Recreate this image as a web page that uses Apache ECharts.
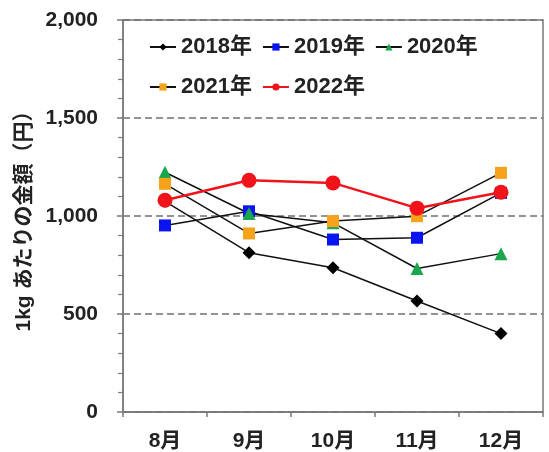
<!DOCTYPE html>
<html>
<head>
<meta charset="utf-8">
<script src="https://cdn.jsdelivr.net/npm/echarts@6/dist/echarts.min.js"></script>
<style>
  html, body { margin: 0; padding: 0; background: #fff; }
  #chart { width: 549px; height: 452px; }
</style>
</head>
<body>
<div id="chart"></div>
<script>
// カテゴリと各年の値
const months = ['8月', '9月', '10月', '11月', '12月'];
const y2018 = [1075, 813, 736, 566, 400];
const y2019 = [952, 1024, 880, 889, 1118];
const y2020 = [1223, 1013, 965, 732, 808];
const y2021 = [1164, 911, 974, 999, 1220];
const y2022 = [1080, 1182, 1169, 1040, 1121];
const yTicks = [0, 500, 1000, 1500, 2000];

const FONT = '"Liberation Sans", Arial, "Noto Sans CJK JP", sans-serif';
const GRAY = '#7a7a7a';

function makeSeries(name, data, symbol, size, color, lineColor, lineWidth) {
  return {
    name: name,
    type: 'line',
    data: data,
    symbol: symbol,
    symbolSize: size,
    showAllSymbol: true,
    itemStyle: { color: color },
    lineStyle: { color: lineColor, width: lineWidth },
    emphasis: { disabled: true },
    animation: false
  };
}

const legendText = { fontFamily: FONT, fontWeight: 'bold', fontSize: 22, color: '#222' };

const option = {
  backgroundColor: '#fff',
  grid: {
    left: 123, right: 6, top: 20, bottom: 39,
    show: true, borderColor: GRAY, borderWidth: 1.5
  },
  legend: [
    {
      data: ['2018年', '2019年', '2020年'],
      left: 144, top: 31,
      itemWidth: 26, itemHeight: 9, itemGap: 10,
      textStyle: legendText
    },
    {
      data: ['2021年', '2022年'],
      left: 144, top: 71,
      itemWidth: 26, itemHeight: 9, itemGap: 10,
      textStyle: legendText
    }
  ],
  xAxis: {
    type: 'category',
    data: months,
    boundaryGap: true,
    axisLine: { lineStyle: { color: GRAY, width: 1.5 } },
    axisTick: { show: true, length: 5, lineStyle: { color: GRAY, width: 1.5 } },
    axisLabel: { margin: 19, fontFamily: FONT, fontWeight: 'bold', fontSize: 21, color: '#222' },
    splitLine: { show: false }
  },
  yAxis: {
    type: 'value',
    min: yTicks[0],
    max: yTicks[yTicks.length - 1],
    interval: 500,
    name: '1kg あたりの金額（円）',
    nameLocation: 'middle',
    nameGap: 88,
    nameRotate: 90,
    nameTextStyle: { fontFamily: FONT, fontWeight: 'bold', fontSize: 21, color: '#222' },
    axisLine: { show: true, lineStyle: { color: GRAY, width: 1.5 } },
    axisTick: { show: true, length: 6, lineStyle: { color: GRAY, width: 1.5 } },
    minorTick: { show: true, splitNumber: 5, length: 5, lineStyle: { color: GRAY, width: 1.2 } },
    axisLabel: {
      margin: 25, fontFamily: FONT, fontWeight: 'bold', fontSize: 21, color: '#222',
      formatter: v => v.toLocaleString('en-US')
    },
    splitLine: { show: true, lineStyle: { color: '#707070', width: 1.5, type: [7, 4] } }
  },
  series: [
    makeSeries('2018年', y2018, 'diamond', 13, '#000', '#111', 1.5),
    makeSeries('2019年', y2019, 'rect', 12, '#0a14f0', '#111', 1.5),
    makeSeries('2020年', y2020, 'triangle', 13, '#1aa64a', '#111', 1.5),
    makeSeries('2021年', y2021, 'rect', 12, '#f7a21b', '#111', 1.5),
    makeSeries('2022年', y2022, 'circle', 15, '#f0141a', '#f0141a', 2.5)
  ]
};

const chart = echarts.init(document.getElementById('chart'), null, { renderer: 'canvas' });
chart.setOption(option);
</script>
</body>
</html>
